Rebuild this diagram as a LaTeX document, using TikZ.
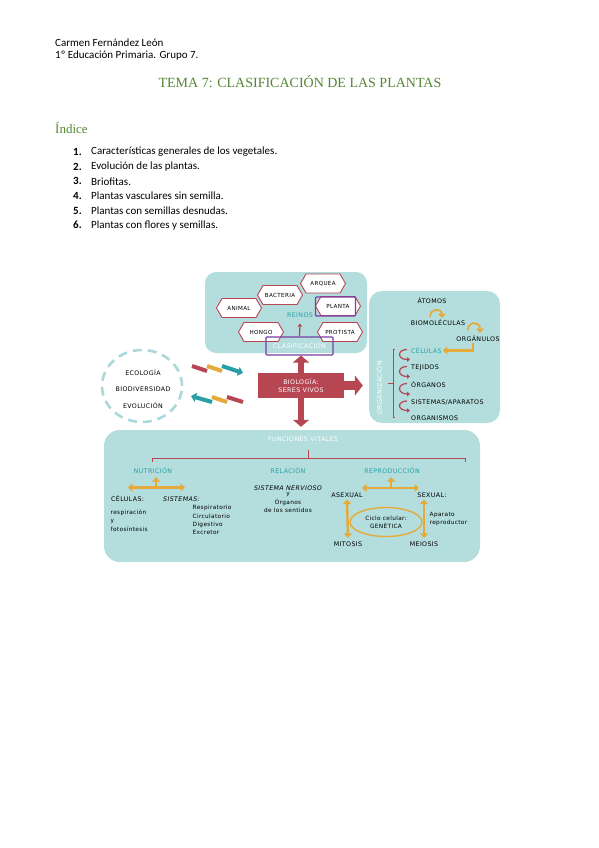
\documentclass[tikz,border=0pt]{standalone}
\usepackage{fontspec}
\usepackage{xcolor}
\usepackage{tikz}
\usetikzlibrary{shapes.symbols,shapes.geometric,arrows.meta,positioning}
\setmainfont{Carlito}
\newfontfamily\titlefont{Liberation Serif}
\newfontfamily\dfont[LetterSpace=6]{DejaVu Sans}
\definecolor{tealbox}{RGB}{180,221,221}
\definecolor{dred}{RGB}{182,70,82}
\definecolor{tealtxt}{RGB}{38,160,166}
\definecolor{gold}{RGB}{229,171,58}
\definecolor{purp}{RGB}{122,62,165}
\definecolor{tgreen}{RGB}{84,135,52}
\definecolor{dashc}{RGB}{172,216,219}

\begin{document}
\begin{tikzpicture}[
  x=1pt, y=-1pt,
  box/.style={fill=tealbox, rounded corners=13pt},
  hex/.style={signal, signal to=east and west, signal pointer angle=120,
    draw=dred, fill=white, line width=0.9pt, minimum width=45pt,
    minimum height=19pt, inner sep=1pt, font=\dfont\fontsize{5.6}{6.5}\selectfont},
  lbl/.style={font=\dfont\fontsize{6.3}{7.3}\selectfont, inner sep=1pt},
  tlbl/.style={lbl, text=tealtxt},
  small/.style={font=\dfont\fontsize{5.8}{8.3}\selectfont, inner sep=0.5pt},
  oarr/.style={draw=gold, line width=2.4pt, -{Triangle[length=4.5pt,width=8pt]}},
  oarrr/.style={draw=gold, line width=2.4pt, {Triangle[length=4.5pt,width=8pt]}-{Triangle[length=4.5pt,width=8pt]}},
  rarr/.style={draw=dred, line width=1.2pt, -{Triangle[length=3pt,width=4.5pt]}},
  big/.style={draw=dred, line width=6pt, -{Triangle[length=7pt,width=16pt]}},
  zig/.style={line width=4pt}
]
\fill[white] (0,0) rectangle (599,848);
\useasboundingbox (0,0) rectangle (599,848);

\node[anchor=west, inner sep=0pt, font=\fontsize{11}{13}\selectfont] at (55,43) {Carmen Fernández León};
\node[anchor=west, inner sep=0pt, font=\fontsize{11}{13}\selectfont] at (55,56) {1º Educación Primaria. Grupo 7.};
\node[text=tgreen, font=\titlefont\fontsize{14}{16}\selectfont] at (300,82) {TEMA 7: CLASIFICACIÓN DE LAS PLANTAS};
\node[anchor=west, inner sep=0pt, text=tgreen, font=\titlefont\fontsize{13}{15}\selectfont] at (55,128) {Índice};
\foreach \n/\t [count=\i] in {1/Características generales de los vegetales.,
    2/Evolución de las plantas., 3/Briofitas., 4/Plantas vasculares sin semilla.,
    5/Plantas con semillas desnudas., 6/Plantas con flores y semillas.} {
  \node[anchor=west, inner sep=0pt, font=\bfseries\fontsize{11}{13}\selectfont] at (73,137.5+14.6*\i) {\n.};
  \node[anchor=west, inner sep=0pt, font=\fontsize{11}{13}\selectfont] at (91,137.5+14.6*\i) {\t};
}

\node[box, minimum width=162pt, minimum height=81pt, rounded corners=11pt] (reinobox) at (286,312.5) {};
\node[box, minimum width=131pt, minimum height=132pt] (org) at (434.5,357) {};
\node[box, minimum width=376pt, minimum height=132pt, rounded corners=16pt] (fv) at (292,496) {};

\node[hex] (arquea) at (323,283.5) {ARQUEA};
\node[hex] (bacteria) at (280,295) {BACTERIA};
\node[hex] (animal) at (239,308) {ANIMAL};
\node[hex] (planta) at (338,306) {PLANTA};
\node[hex] (hongo) at (261,332) {HONGO};
\node[hex] (protista) at (340,332) {PROTISTA};
\node[draw=purp, line width=1.3pt, rounded corners=1pt, minimum width=40pt, minimum height=19pt] at (335.5,306.5) {};
\node[tlbl] (reinos) at (300,315) {REINOS};
\node[draw=purp, line width=1.1pt, rounded corners=1pt, minimum width=67pt, minimum height=18pt,
  text=white, lbl] (clas) at (299.5,346) {CLASIFICACIÓN};
\draw[rarr] (clas.north) -- ([yshift=-5pt]reinos.south);

\node[fill=dred, minimum width=86pt, minimum height=25pt, align=center, text=white,
  font=\dfont\fontsize{6.3}{8}\selectfont] (bio) at (301,385.5) {BIOLOGÍA:\\SERES VIVOS};
\draw[big] (bio.north) -- (bio.north |- clas.south);
\draw[big] (bio.south) -- ([yshift=3pt]bio.south |- fv.north);
\draw[big, line width=9pt, -{Triangle[length=8pt,width=20pt]}] (bio.east) -- ([xshift=-6pt]bio.east -| org.west);

\node[draw=dashc, ellipse, dash pattern=on 9pt off 6pt, line width=2.6pt,
  minimum width=80pt, minimum height=72pt] (eco) at (142,386) {};
\node[lbl] at (143,373) {ECOLOGÍA};
\node[lbl] at (143,389.5) {BIODIVERSIDAD};
\node[lbl] at (143,406) {EVOLUCIÓN};

\draw[zig, dred] (192,366) -- (207,371);
\draw[zig, gold] (207,366) -- (222,371);
\draw[zig, tealtxt, -{Triangle[length=5pt,width=9pt]}] (222,366) -- (243,373);
\draw[zig, tealtxt, -{Triangle[length=5pt,width=9pt]}] (212,402) -- (191,396);
\draw[zig, gold] (212,397) -- (227,402);
\draw[zig, dred] (227,397) -- (243,402);

\node[lbl] (atomos) at (432,301) {ÁTOMOS};
\node[lbl] (biomol) at (438,323) {BIOMOLÉCULAS};
\node[lbl] (organulos) at (478,338.5) {ORGÁNULOS};
\node[tlbl, anchor=west] (celulas) at (410,350.5) {CÉLULAS};
\node[lbl, anchor=west] (tejidos) at (410,367.5) {TEJIDOS};
\node[lbl, anchor=west] (organos) at (410,384.5) {ÓRGANOS};
\node[lbl, anchor=west] (sistemas) at (410,402) {SISTEMAS/APARATOS};
\node[lbl, anchor=west] (organismos) at (410,418.5) {ORGANISMOS};
\draw[oarr, line width=1.8pt] (430,317) .. controls (430,308) and (442,308) .. (442,318);
\draw[oarr, line width=1.8pt] (468,330) .. controls (468,321) and (480,321) .. (480,333);
\draw[oarr] ([xshift=-5pt]organulos.south) |- (celulas.east);
\foreach \a/\b in {celulas/tejidos, tejidos/organos, organos/sistemas, sistemas/organismos}
  \draw[rarr] ([xshift=-3pt,yshift=1pt]\a.west) .. controls ([xshift=-13pt,yshift=1pt]\a.west)
    and ([xshift=-13pt,yshift=8pt]\b.west) .. ([xshift=0pt,yshift=8pt]\b.west);
\draw[dred, line width=0.9pt] (395,349) -- (393,349) -- (393,417) -- (395,417);
\draw[dred, line width=0.9pt] (393,383) -- (388,383);
\node[lbl, text=white, rotate=90] at (379,388) {ORGANIZACIÓN};

\node[lbl, text=white] (fvt) at (303,439) {FUNCIONES VITALES};
\draw[dred, line width=0.8pt] (152,462) -- (152,458) -- (465,458) -- (465,462);
\draw[dred, line width=0.8pt] (308,458) -- (308,450);

\node[tlbl] (nut) at (153,471) {NUTRICIÓN};
\node[tlbl] (rel) at (288,471) {RELACIÓN};
\node[tlbl] (rep) at (392,471) {REPRODUCCIÓN};

\coordinate (nl) at (128,487.5);
\coordinate (nr) at (185,487.5);
\coordinate (nj) at (156,487.5);
\draw[oarrr] (nl) -- (nr);
\draw[oarr] (nj) -- ([yshift=-2pt]nut.south -| nj);
\node[lbl, anchor=west] (ncel) at (110,499) {CÉLULAS:};
\node[lbl, anchor=west, font=\dfont\itshape\fontsize{6.3}{7.3}\selectfont] (nsis) at (162,499) {SISTEMAS:};
\node[small, anchor=west, align=left] at (110,520.5) {respiración\\y\\fotosíntesis};
\node[small, anchor=west, align=left] at (192,520) {Respiratorio\\Circulatorio\\Digestivo\\Excretor};

\node[lbl, font=\dfont\itshape\fontsize{6.3}{7.3}\selectfont] (nerv) at (288,488) {SISTEMA NERVIOSO};
\node[small, align=center, below=0.5pt of nerv] {y\\Órganos\\de los sentidos};

\node[lbl] (asex) at (347,495) {ASEXUAL};
\node[lbl] (sex) at (432,495) {SEXUAL:};
\node[lbl] (mit) at (348,544.5) {MITOSIS};
\node[lbl] (mei) at (424,544.5) {MEIOSIS};
\coordinate (rl) at (362,488);
\coordinate (rr) at (419,488);
\coordinate (rj) at (391,488);
\draw[oarrr] (rl) -- (rr);
\draw[oarr] (rj) -- ([yshift=-2pt]rep.south -| rj);
\draw[oarrr] ([yshift=-1pt]asex.south) -- ([yshift=3pt]mit.north);
\draw[oarrr] ([yshift=-1pt]sex.south -| mei.north) -- ([yshift=3pt]mei.north);
\node[draw=gold, ellipse, line width=1.4pt, minimum width=72pt, minimum height=29pt,
  small, align=center] (ciclo) at (386,522) {Ciclo celular:\\GENÉTICA};
\node[small, anchor=west, align=left] at (429,519) {Aparato\\reproductor};
\end{tikzpicture}
\end{document}
